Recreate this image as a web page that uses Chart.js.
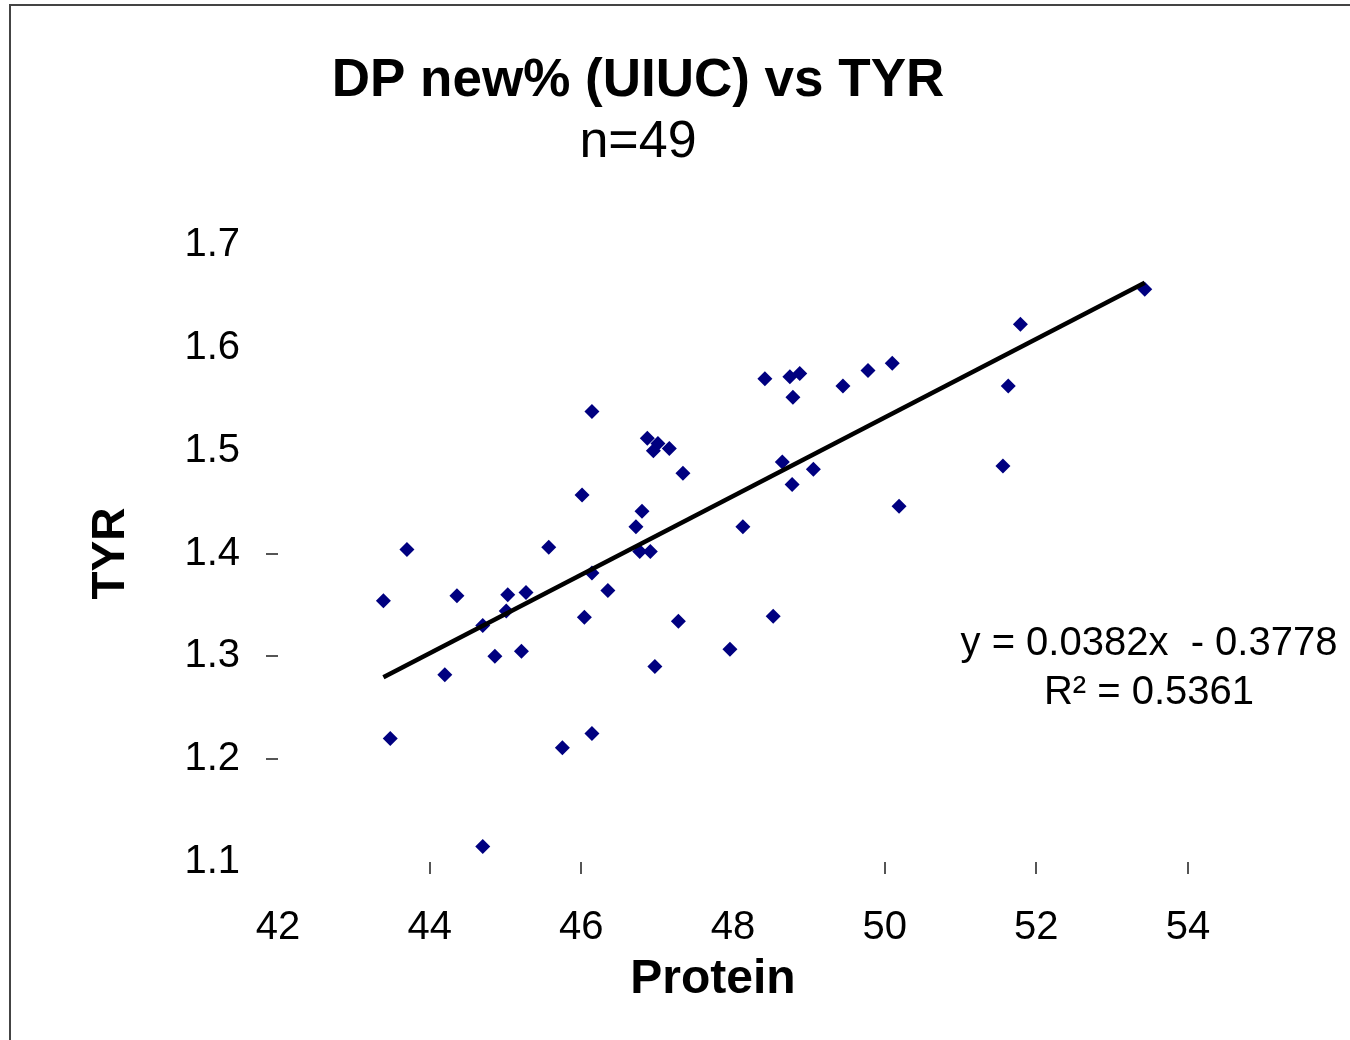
<!DOCTYPE html>
<html>
<head>
<meta charset="utf-8">
<title>DP new% (UIUC) vs TYR</title>
<script src="https://cdn.jsdelivr.net/npm/chart.js@4.4.1/dist/chart.umd.min.js"></script>
<style>
  html, body { margin: 0; padding: 0; background: #fff; }
  #wrap { width: 1350px; height: 1040px; }
</style>
</head>
<body>
<div id="wrap"><canvas id="chart" width="1350" height="1040"></canvas></div>
<script>
// protein (x) and TYR (y)
const protein = [43.39, 43.48, 43.70, 44.20, 44.36, 44.70, 44.70, 44.86, 45.01, 45.03,
                 45.21, 45.27, 45.57, 45.75, 46.01, 46.04, 46.14, 46.14, 46.14, 46.35,
                 46.72, 46.80, 46.77, 46.91, 46.87, 47.01, 46.95, 47.16, 46.97, 47.28,
                 47.34, 47.96, 48.13, 48.42, 48.53, 48.65, 48.75, 48.78, 48.79, 48.88,
                 49.06, 49.45, 49.78, 50.10, 50.19, 51.56, 51.63, 51.79, 53.43];
const tyr = [1.354, 1.220, 1.404, 1.282, 1.359, 1.115, 1.330, 1.300, 1.344, 1.360,
             1.305, 1.362, 1.406, 1.211, 1.457, 1.338, 1.538, 1.381, 1.225, 1.364,
             1.426, 1.441, 1.402, 1.402, 1.512, 1.507, 1.500, 1.502, 1.290, 1.334,
             1.478, 1.307, 1.426, 1.570, 1.339, 1.489, 1.572, 1.467, 1.552, 1.575,
             1.482, 1.563, 1.578, 1.585, 1.446, 1.485, 1.563, 1.623, 1.657];

// trendline as printed on the chart
const slope = 0.0382;
const intercept = -0.3778;
const rSquared = "0.5361";

const xTicksShown = [44, 46, 50, 52, 54];
const yTicksShown = [1.2, 1.3, 1.4];

const FONT = "'Liberation Sans', Arial, sans-serif";

const points = protein.map((x, i) => ({ x: x, y: tyr[i] }));
const xMin = Math.min(...protein);
const xMax = Math.max(...protein);
const trend = [
    { x: xMin, y: slope * xMin + intercept },
    { x: xMax, y: slope * xMax + intercept }
];

const textPlugin = {
    id: "texts",
    beforeDraw(chart) {
        const ctx = chart.ctx;
        ctx.save();
        ctx.fillStyle = "#fff";
        ctx.fillRect(0, 0, chart.width, chart.height);
        ctx.strokeStyle = "#444";
        ctx.lineWidth = 2;
        ctx.strokeRect(10, 5, 1400, 1100);
        ctx.restore();
    },
    afterDraw(chart) {
        const ctx = chart.ctx;
        ctx.save();
        ctx.fillStyle = "#000";
        ctx.textAlign = "center";
        ctx.textBaseline = "alphabetic";
        ctx.font = "bold 53px " + FONT;
        ctx.fillText("DP new% (UIUC) vs TYR", 638, 96);
        ctx.font = "52px " + FONT;
        ctx.fillText("n=49", 638, 157);

        // x axis title sits a bit left of the plot centre in the original
        ctx.font = "bold 48px " + FONT;
        ctx.fillText("Protein", 713, 993);

        ctx.font = "40px " + FONT;
        const sign = intercept < 0 ? "-" : "+";
        ctx.fillText("y = " + slope.toFixed(4) + "x  " + sign + " " + Math.abs(intercept).toFixed(4), 1149, 655);
        ctx.fillText("R\u00B2 = " + rSquared, 1149, 704);
        ctx.restore();
    }
};

new Chart(document.getElementById("chart"), {
    type: "scatter",
    data: {
        datasets: [
            {
                label: "Trend",
                type: "line",
                data: trend,
                borderColor: "#000",
                borderWidth: 4.5,
                pointRadius: 0,
                fill: false,
                order: 0
            },
            {
                label: "TYR",
                data: points,
                backgroundColor: "#000080",
                borderColor: "#000080",
                pointStyle: "rectRot",
                pointRadius: 7.5,
                borderWidth: 0,
                order: 1
            }
        ]
    },
    options: {
        responsive: false,
        animation: false,
        events: [],
        layout: { padding: { left: 10, right: 162, top: 245, bottom: 0 } },
        plugins: {
            legend: { display: false },
            tooltip: { enabled: false },
            title: { display: false }
        },
        scales: {
            x: {
                type: "linear",
                min: 42,
                max: 54,
                afterFit: s => { s.height = 178; },
                border: { display: false },
                grid: {
                    drawOnChartArea: false,
                    drawTicks: true,
                    tickLength: 12,
                    lineWidth: 2,
                    color: c => xTicksShown.includes(c.tick && c.tick.value) ? "#555" : "rgba(0,0,0,0)"
                },
                ticks: {
                    stepSize: 2,
                    padding: 30,
                    color: "#000",
                    font: { family: FONT, size: 40 }
                },
                title: { display: false }
            },
            y: {
                type: "linear",
                min: 1.1,
                max: 1.7,
                afterFit: s => { s.width = 268; },
                border: { display: false },
                grid: {
                    drawOnChartArea: false,
                    drawTicks: true,
                    tickLength: 12,
                    lineWidth: 2,
                    color: c => yTicksShown.some(v => c.tick && Math.abs(c.tick.value - v) < 1e-6) ? "#555" : "rgba(0,0,0,0)"
                },
                ticks: {
                    stepSize: 0.1,
                    padding: 26,
                    color: "#000",
                    font: { family: FONT, size: 40 },
                    callback: v => v.toFixed(1)
                },
                title: {
                    display: true,
                    text: "TYR",
                    color: "#000",
                    font: { family: FONT, size: 46, weight: "bold" },
                    padding: { top: 74, bottom: 0 }
                }
            }
        }
    },
    plugins: [textPlugin]
});
</script>
</body>
</html>
